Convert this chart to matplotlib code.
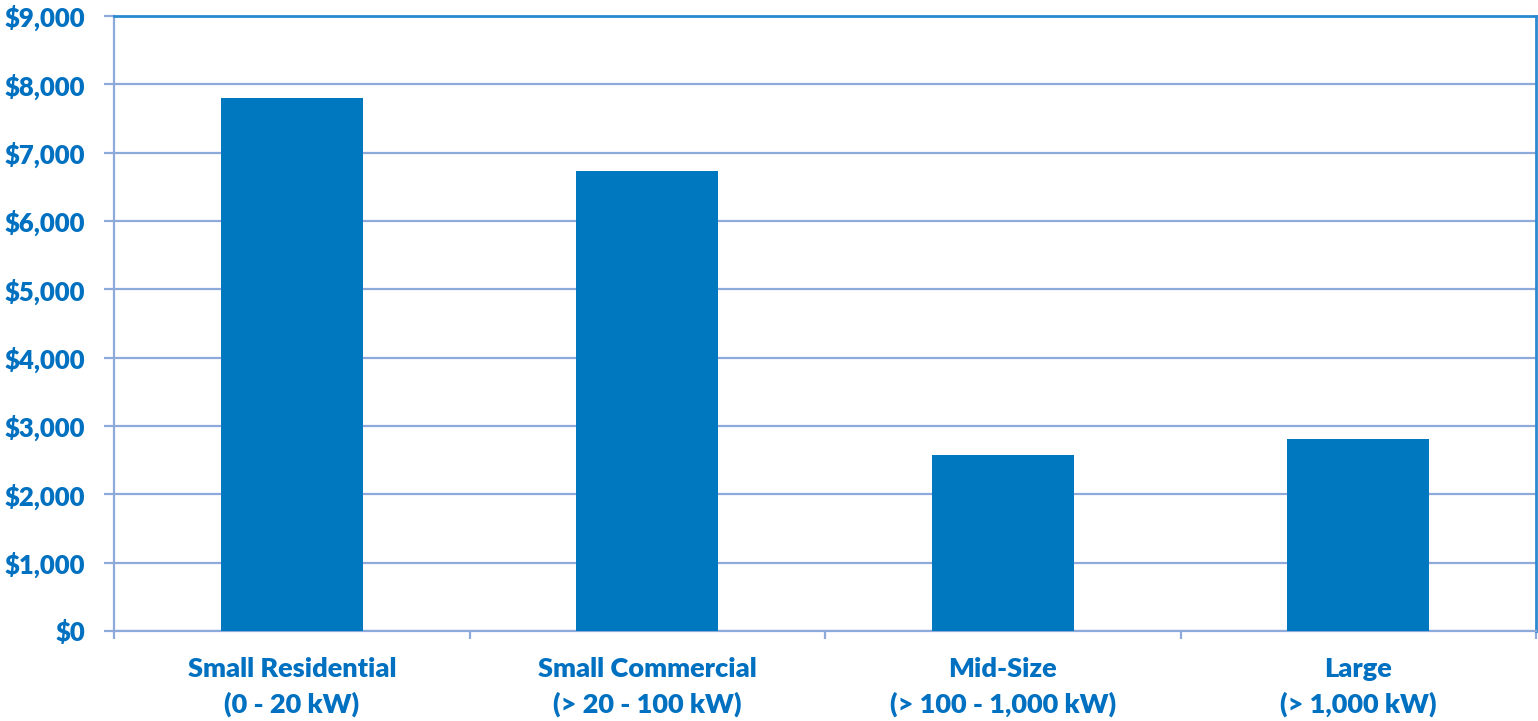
import matplotlib.pyplot as plt
from matplotlib.ticker import FuncFormatter, MultipleLocator, FixedLocator

categories = ['Small Residential\n(0 - 20 kW)', 'Small Commercial\n(> 20 - 100 kW)',
              'Mid-Size\n(> 100 - 1,000 kW)', 'Large\n(> 1,000 kW)']
values = [7800, 6730, 2575, 2810]

text_color = '#0070C0'
bar_color = '#0078C0'
grid_color = '#8EAADB'
frame_color = '#2A8AD0'

plt.rcParams['font.family'] = ['Lato', 'DejaVu Sans']

fig = plt.figure(figsize=(15.38, 7.21), dpi=100)
ax = fig.add_axes([114 / 1538, 1 - 631 / 721, (1536 - 114) / 1538, (631 - 16) / 721])

x = range(len(categories))
ax.bar(x, values, width=0.4, color=bar_color, zorder=3)

ax.set_xlim(-0.5, len(categories) - 0.5)
ax.set_ylim(0, 9000)
ax.yaxis.set_major_locator(MultipleLocator(1000))
ax.yaxis.set_major_formatter(FuncFormatter(lambda v, p: f'${v:,.0f}'))
ax.grid(axis='y', color=grid_color, linewidth=1.6, zorder=1)

ax.set_xticks(list(x))
ax.set_xticklabels(categories, fontsize=19.5, fontweight='heavy', color=text_color,
                   linespacing=1.5)
ax.xaxis.set_minor_locator(FixedLocator([i - 0.5 for i in range(len(categories) + 1)]))
ax.tick_params(axis='x', which='major', length=0, pad=19)
ax.tick_params(axis='x', which='minor', length=6, width=1.6, color=grid_color)
ax.tick_params(axis='y', length=7, width=1.6, color=grid_color, pad=14)
for lbl in ax.get_yticklabels():
    lbl.set_fontsize(18.5)
    lbl.set_fontweight('heavy')
    lbl.set_color(text_color)

for side in ['left', 'bottom']:
    ax.spines[side].set_color(grid_color)
    ax.spines[side].set_linewidth(1.6)
for side in ['top', 'right']:
    ax.spines[side].set_color(frame_color)
    ax.spines[side].set_linewidth(2)

fig.savefig('out.png', dpi=100)
